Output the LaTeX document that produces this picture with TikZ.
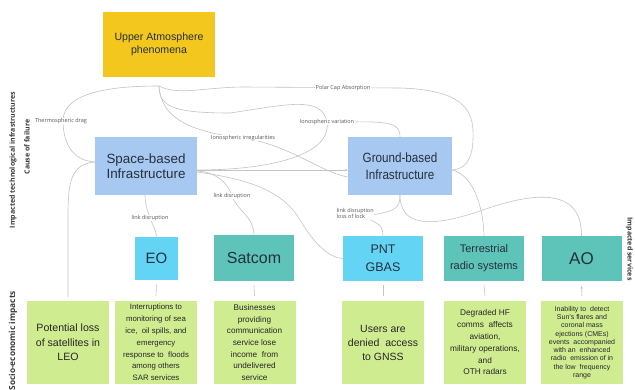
\documentclass[tikz,border=0pt]{standalone}
\usepackage{fontspec}
\setmainfont{Liberation Sans}
\newfontfamily\lblfont{Open Sans}
\newfontfamily\narrowfont{Liberation Sans}[FakeStretch=0.87]
\usetikzlibrary{arrows.meta}
\definecolor{uay}{HTML}{F3C71E}
\definecolor{infra}{HTML}{A7C8F0}
\definecolor{cyanbox}{HTML}{63D4F4}
\definecolor{tealbox}{HTML}{5EC3B9}
\definecolor{greenbox}{HTML}{D0EC91}
\definecolor{connc}{HTML}{C4C4C4}
\definecolor{lbltext}{HTML}{555555}
\definecolor{boxtext}{HTML}{25303C}
\definecolor{sidetext}{HTML}{3A3A3A}
\newcommand\myfs[2]{\fontsize{#1}{#2}\selectfont}
\tikzset{
  box/.style={inner sep=0pt, align=center, text=boxtext},
  greenb/.style={box, fill=greenbox, minimum width=82, minimum height=83, text=black!85},
  conn/.style={draw=connc, line width=0.6pt},
  lbl/.style={font=\lblfont\myfs{5.5}{6.8}, text=lbltext, fill=white, inner sep=0.6pt},
  sidelbl/.style={font=\lblfont\bfseries\myfs{7}{8.5}, text=sidetext, inner sep=0pt},
}
\begin{document}
\begin{tikzpicture}[x=1pt,y=-1pt]
\useasboundingbox (0,0) rectangle (635,389);
\fill[white] (0,0) rectangle (635,389);
% main boxes
\node[box, fill=uay, minimum width=112, minimum height=65, font=\myfs{10.6}{13}] (ua) at (159,44.5) {Upper Atmosphere\\phenomena};
\node[box, fill=infra, minimum width=102, minimum height=58, font=\myfs{13.4}{15}] (sb) at (146,166) {Space-based\\Infrastructure};
\node[box, fill=infra, minimum width=104, minimum height=58, font=\narrowfont\myfs{13.4}{16.5}] (gb) at (400,166) {Ground-based\\Infrastructure};
% services
\node[box, fill=cyanbox, minimum width=43, minimum height=43, font=\myfs{15}{18}] (eo) at (156.5,258) {EO};
\node[box, fill=tealbox, minimum width=80, minimum height=46, font=\myfs{16}{18}] (sat) at (254,258) {Satcom};
\node[box, fill=cyanbox, minimum width=80, minimum height=45, font=\myfs{12.5}{18}] (pnt) at (383,258.5) {PNT\\GBAS};
\node[box, fill=tealbox, minimum width=80, minimum height=45, font=\myfs{11}{17}] (ter) at (484,258.5) {Terrestrial\\radio systems};
\node[box, fill=tealbox, minimum width=80, minimum height=45, font=\myfs{17}{18}] (ao) at (581.5,258.5) {AO};
% impacts
\node[greenb, font=\myfs{10.6}{14.5}] (pot) at (68,342.5) {Potential loss\\of satellites in\\LEO};
\node[greenb, font=\myfs{7.8}{11.8}] (int) at (156,342.5) {Interruptions to\\monitoring of sea\\ice,\ \ oil spills, and\\emergency\\response to\ \ floods\\among others\\SAR services};
\node[greenb, font=\myfs{8.2}{11.6}] (bus) at (254.5,342.5) {Businesses\\providing\\communication\\service lose\\income\ \ from\\undelivered\\service};
\node[greenb, font=\myfs{10.5}{14}] (usr) at (383,342.5) {Users are\\denied\ \ access\\to GNSS};
\node[greenb, font=\myfs{8.3}{11.8}] (deg) at (485,342.5) {Degraded HF\\comms\ \ affects\\aviation,\\military operations,\\and\\OTH radars};
\node[greenb, font=\myfs{7}{8.3}] (inab) at (582,342.5) {Inability to\ \ detect\\Sun's flares and\\coronal mass\\ejections (CMEs)\\events\ \ accompanied\\with an\ \ enhanced\\radio\ \ emission of in\\the low\ \ frequency\\range};
% connectors
\coordinate (uaf) at (159,86);
\draw[conn] (uaf) .. controls (120,86) and (64,90) .. (63,120) .. controls (63,150) and (78,161) .. ([yshift=4]sb.west);
\draw[conn] (uaf) .. controls (178,96) and (205,87) .. (245,87) -- (400,88) .. controls (470,90) and (474,115) .. (473,140) .. controls (472,163) and (463,169) .. ([yshift=-4]gb.east);
\draw[conn] (uaf) .. controls (159,106) and (172,113) .. (230,113) .. controls (285,105) and (322,95) .. (327,122) .. controls (332,155) and (270,170) .. ([yshift=-4]sb.east);
\draw[conn] (uaf) .. controls (161,118) and (190,132) .. (243,138) .. controls (290,145) and (320,172) .. ([yshift=-11]gb.west);
\draw[conn, -{Stealth[length=3pt,width=2.5pt]}] ([yshift=-4]sb.east) -- ([yshift=-4]gb.west);
\draw[conn] ([xshift=-1]sb.south) .. controls (145,205) and (148,212) .. (150,218) .. controls (153,226) and (156,230) .. (eo.north);
\draw[conn] ([yshift=-5]sb.east) .. controls (215,172) and (228,182) .. (232,196) .. controls (238,212) and (253,215) .. (sat.north);
\draw[conn] ([yshift=-6]sb.east) .. controls (240,178) and (282,188) .. (300,220) .. controls (315,245) and (330,258) .. (pnt.west);
\draw[conn] ([yshift=4]sb.west) .. controls (72,164) and (68,180) .. (68,215) -- ([yshift=4]pot.north);
\draw[conn] (gb.south) .. controls (400,226) and (430,228) .. (480,211) .. controls (530,193) and (582,185) .. (ao.north);
\draw[conn] ([yshift=-4]gb.east) .. controls (470,174) and (483,200) .. (ter.north);
% labels
\node[lbl] (thd) at (61,121) {Thermospheric drag};
\node[lbl] (pca) at (343,88) {Polar Cap Absorption};
\node[lbl] (ivar) at (327,122) {Ionospheric variation};
\node[lbl] (iirr) at (243,138) {Ionospheric irregularities};
\node[lbl] (lde) at (150,218) {link disruption};
\node[lbl] (lds) at (232,196) {link disruption};
\node[lbl, align=left, anchor=west] (lpnt) at (336,213.5) {link disruption\\loss of lock};
\draw[conn] (ivar.east) .. controls (395,121) and (400,126) .. (gb.north);
\draw[conn] (gb.south) .. controls (400,208) and (395,211) .. ([yshift=-1]lpnt.east);
\draw[conn] ([xshift=-4]lpnt.south east) .. controls (382,226) .. (pnt.north);
% short links to impacts
\draw[conn] ([yshift=-5]eo.south) -- ([yshift=5]int.north);
\draw[conn] ([yshift=-4]sat.south) -- ([yshift=5]bus.north);
\draw[conn] ([yshift=-4]pnt.south) -- ([yshift=5]usr.north);
\draw[conn] ([yshift=-4]ter.south) -- ([yshift=5]deg.north);
\draw[conn, -{Stealth[length=2.5pt,width=2.5pt]}] ([yshift=5]inab.north) -- ([yshift=-5]ao.south);
% side labels
\node[sidelbl, rotate=90] (side1) at (13,160) {Impacted technological infrastructures};
\node[sidelbl, rotate=90] (side2) at (27,147) {Cause of failure};
\node[sidelbl, rotate=90, anchor=east, font=\lblfont\bfseries\myfs{8.3}{9}] (side3) at (13,291) {Socio-economic impacts};
\node[sidelbl, rotate=-90, font=\lblfont\bfseries\myfs{7}{8}] (side4) at (629.5,249) {Impacted services};
\end{tikzpicture}
\end{document}
